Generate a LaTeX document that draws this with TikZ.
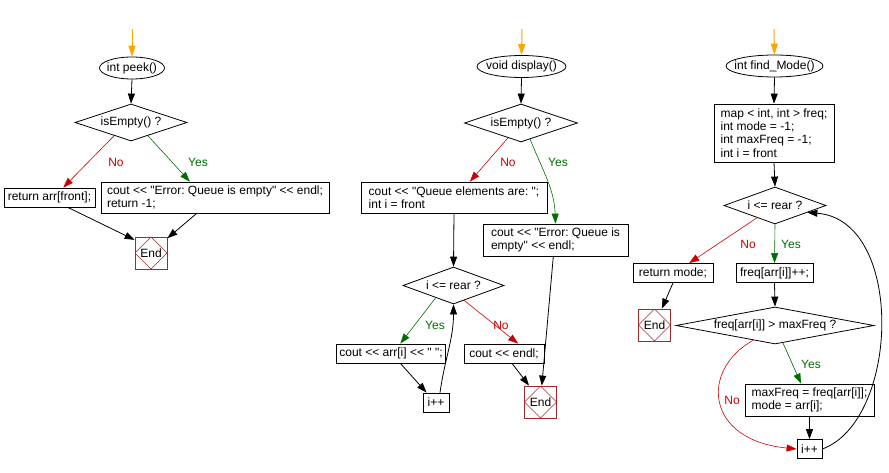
\documentclass[tikz,border=0pt]{standalone}
\usepackage{fontspec}
\setmainfont{Liberation Sans}[Ligatures=TeXOff]
\usetikzlibrary{shapes.geometric,arrows.meta,calc}
\definecolor{nored}{RGB}{204,0,0}
\definecolor{yesgreen}{RGB}{0,110,0}
\definecolor{startor}{RGB}{255,165,0}
\definecolor{endred}{RGB}{165,40,40}
\newcommand{\zw}[1]{\makebox[0pt]{#1}}
\frenchspacing
\begin{document}
\begin{tikzpicture}[x=1pt,y=-1pt,
  every node/.style={font=\fontsize{12}{13.4}\selectfont},
  term/.style={ellipse, draw, line width=0.8pt, inner sep=0pt, minimum height=22pt},
  dec/.style={diamond, draw, line width=0.8pt, inner sep=0pt},
  box/.style={rectangle, draw, line width=0.8pt, inner xsep=3pt, inner ysep=0pt, align=left},
  endbox/.style={rectangle, draw=endred, line width=0.8pt, inner sep=0pt, minimum size=32pt,
    path picture={\draw[endred, line width=0.6pt] (path picture bounding box.north) -- (path picture bounding box.east) -- (path picture bounding box.south) -- (path picture bounding box.west) -- cycle;}},
  flow/.style={draw=black, line width=0.8pt, -{Triangle[length=10pt,width=7pt]}},
  startarr/.style={draw=startor, line width=1pt, -{Triangle[length=11pt,width=7pt]}},
  noarr/.style={draw=nored, line width=0.6pt, -{Triangle[length=10pt,width=7pt]}},
  yesarr/.style={draw=yesgreen, line width=0.6pt, -{Triangle[length=10pt,width=7pt]}},
  nolab/.style={text=nored, inner sep=0pt},
  yeslab/.style={text=yesgreen, inner sep=0pt}
]
\useasboundingbox (0,0) rectangle (889,473);

% ---------------- column 1: peek ----------------
\coordinate (s1) at (132,29);
\node[term, minimum width=65pt] (t1) at (132,68) {\zw{int peek()}};
\node[dec, minimum width=112pt, minimum height=37pt] (d1) at (131,122.5) {\zw{isEmpty() ?}};
\node[box, minimum width=91pt, minimum height=19pt] (r1) at (49.5,197.5) {return arr[front];};
\node[box, minimum width=228pt, minimum height=31pt] (c1) at (215,197.5) {cout << "Error: Queue is empty" << endl;\\return -1;};
\node[endbox] (e1) at (151,253) {End};
\node[nolab] (n1) at (116,162) {No};
\node[yeslab] (y1) at (198,162) {Yes};

\draw[startarr] (s1) -- (t1.north);
\draw[flow] (t1.south) -- (d1.north);
\draw[noarr] ($(d1.south)!0.3!(d1.west)$) -- ($(r1.north)!0.3!(r1.north east)$);
\draw[yesarr] ($(d1.south)!0.3!(d1.east)$) -- ($(c1.north)!0.22!(c1.north west)$);
\draw[flow] ($(r1.south)!0.4!(r1.south east)$) -- ($(e1.north west)!0.1!(e1.south west)$);
\draw[flow] ($(c1.south)!0.16!(c1.south west)$) -- ($(e1.north east)!0.05!(e1.south east)$);

% ---------------- column 2: display ----------------
\coordinate (s2) at (522,29);
\node[term, minimum width=89pt] (t2) at (521.5,66.5) {\zw{void display()}};
\node[dec, minimum width=113pt, minimum height=38pt] (d2) at (521,123) {\zw{isEmpty() ?}};
\node[box, minimum width=186pt, minimum height=31pt] (c2) at (454,197.5) {cout << "Queue elements are: ";\\int i = front};
\node[box, minimum width=145pt, minimum height=32pt] (x2) at (555.5,240) {cout << "Error: Queue is\\empty" << endl;};
\node[dec, minimum width=101pt, minimum height=37pt] (l2) at (453.5,285.5) {\zw{i <= rear ?}};
\node[box, minimum width=108pt, minimum height=19pt] (a2) at (391,353.5) {cout << arr[i] << " ";};
\node[box, minimum width=80pt, minimum height=19pt] (k2) at (504,353.5) {cout << endl;};
\node[box, minimum width=26pt, minimum height=19pt] (i2) at (436,402.5) {i++};
\node[endbox] (e2) at (540.5,402) {End};
\node[nolab] (n2) at (508,162) {No};
\node[yeslab] (y2) at (558,162) {Yes};
\node[yeslab] (y2b) at (435,325) {Yes};
\node[nolab] (n2b) at (501,325) {No};

\draw[startarr] (s2) -- (t2.north);
\draw[flow] (t2.south) -- (d2.north);
\draw[noarr] ($(d2.south)!0.23!(d2.west)$) -- ($(c2.north)!0.17!(c2.north east)$);
\draw[yesarr] ($(d2.south)!0.16!(d2.east)$) to[out=-68,in=92] (x2.north);
\draw[flow] (c2.south) -- (l2.north);
\draw[yesarr] ($(l2.south)!0.35!(l2.west)$) -- ($(a2.north)!0.17!(a2.north east)$);
\draw[noarr] ($(l2.south)!0.21!(l2.east)$) -- ($(k2.north)!0.35!(k2.north east)$);
\draw[flow] ($(a2.south)!0.17!(a2.south east)$) -- ($(i2.north west)!0.15!(i2.north east)$);
\draw[flow] ($(i2.north)!0.3!(i2.north east)$) to[out=82,in=-90] (l2.south);
\draw[flow] ($(k2.south)!0.2!(k2.south east)$) -- ($(e2.north west)!0.15!(e2.north east)$);
\draw[flow] ($(x2.south)!0.03!(x2.south west)$) -- ($(e2.north)!0.08!(e2.north east)$);

% ---------------- column 3: find_Mode ----------------
\coordinate (s3) at (774,29);
\node[term, minimum width=97pt] (t3) at (774.5,66) {\zw{int find\_Mode()}};
\node[box, minimum width=120pt, minimum height=58pt] (m3) at (774,133) {map < int, int > freq;\\int mode = -1;\\int maxFreq = -1;\\int i = front};
\node[dec, minimum width=102pt, minimum height=37pt] (l3) at (775,205.5) {\zw{i <= rear ?}};
\node[box, minimum width=80pt, minimum height=19pt] (r3) at (673,273) {return mode;};
\node[box, minimum width=77pt, minimum height=19pt] (f3) at (774.5,273) {freq[arr[i]]++;};
\node[endbox] (e3) at (654.5,325) {End};
\node[dec, minimum width=198pt, minimum height=37pt] (q3) at (775,325.5) {\zw{freq[arr[i]] > maxFreq ?}};
\node[box, minimum width=129pt, minimum height=32pt] (u3) at (809.5,400) {maxFreq = freq[arr[i]];\\mode = arr[i];};
\node[box, minimum width=25pt, minimum height=19pt] (i3) at (809.5,449) {i++};
\node[nolab] (n3) at (748,244) {No};
\node[yeslab] (y3) at (791,244) {Yes};
\node[yeslab] (y3b) at (811,364) {Yes};
\node[nolab] (n3b) at (732,400) {No};

\draw[startarr] (s3) -- (t3.north);
\draw[flow] (t3.south) -- (m3.north);
\draw[flow] (m3.south) -- (l3.north);
\draw[noarr] ($(l3.south)!0.35!(l3.west)$) -- ($(r3.north)!0.4!(r3.north east)$);
\draw[yesarr] (l3.south) -- (f3.north);
\draw[flow] (r3.south) -- ($(e3.north)!0.45!(e3.north east)$);
\draw[flow] (f3.south) -- (q3.north);
\draw[yesarr] ($(q3.south)!0.08!(q3.east)$) -- ($(u3.north)!0.13!(u3.north west)$);
\draw[noarr] ($(q3.south)!0.22!(q3.west)$) .. controls (700,370) and (705,440) .. (i3.west);
\draw[flow] (u3.south) -- (i3.north);
\draw[flow] (i3.east) .. controls (900,420) and (905,220) .. ($(l3.east)!0.37!(l3.south)$);
\end{tikzpicture}
\end{document}
